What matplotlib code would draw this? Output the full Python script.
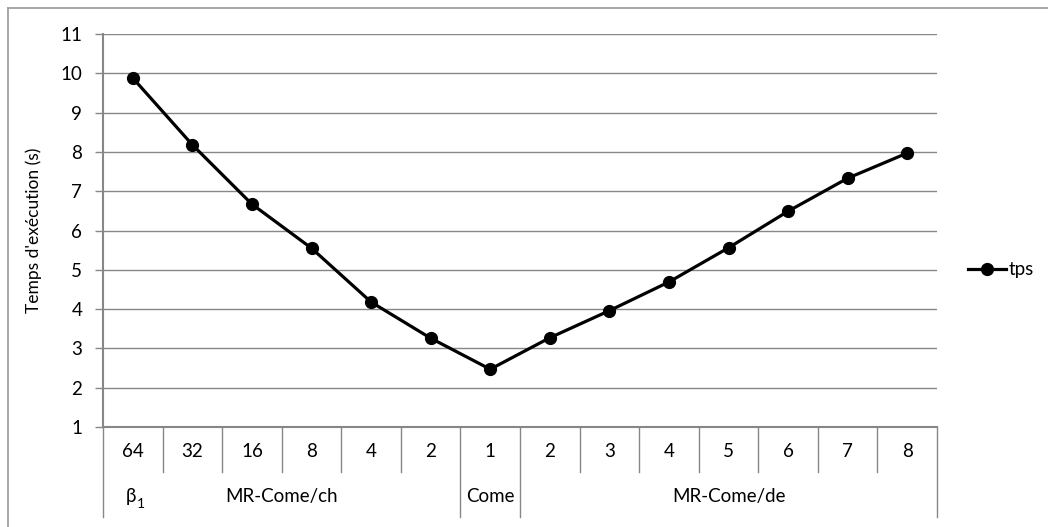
import matplotlib
matplotlib.use("Agg")
import matplotlib.pyplot as plt
from matplotlib.lines import Line2D
import matplotlib.transforms as mtransforms

plt.rcParams['font.family'] = ['Lato', 'DejaVu Sans']

tick_labels = ["64", "32", "16", "8", "4", "2", "1", "2", "3", "4", "5", "6", "7", "8"]
tps = [9.88, 8.18, 6.67, 5.55, 4.18, 3.26, 2.47, 3.27, 3.96, 4.69, 5.56, 6.49, 7.33, 7.97]
groups = [("MR-Come/ch", 0, 5), ("Come", 6, 6), ("MR-Come/de", 7, 13)]
extra_label = ("β", "1", 0)
y_ticks = list(range(1, 12))

W, H = 1048, 527
fig = plt.figure(figsize=(W / 100, H / 100), dpi=100)
ax = fig.add_axes([103 / W, 1 - 427 / H, (937 - 103) / W, (427 - 34) / H])

grey = "#878787"
fs = 13.5
x = list(range(len(tps)))
ax.plot(x, tps, color="black", lw=2.3, marker="o", markersize=8.5, label="tps", zorder=3)

ax.set_xlim(-0.5, len(tps) - 0.5)
ax.set_ylim(1, 11)
ax.set_yticks(y_ticks)
ax.yaxis.grid(True, color=grey, lw=1)
ax.set_axisbelow(True)
ax.set_xticks([])
for s in ["top", "right"]:
    ax.spines[s].set_visible(False)
for s in ["left", "bottom"]:
    ax.spines[s].set_color(grey)
    ax.spines[s].set_linewidth(1.5)
ax.tick_params(axis="y", length=6, width=1, color=grey, pad=9, labelsize=fs)

ax.set_ylabel("Temps d'exécution (s)", fontsize=12.5, labelpad=13)

trans = mtransforms.blended_transform_factory(ax.transData, ax.transAxes)
row1 = 45 / 393
row2 = 90 / 393
group_bounds = set()
for _, a, b in groups:
    group_bounds.add(a - 0.5)
    group_bounds.add(b + 0.5)
for i in range(len(tps) + 1):
    xb = i - 0.5
    depth = row2 if xb in group_bounds else row1
    ax.add_line(Line2D([xb, xb], [0, -depth], transform=trans, color=grey, lw=1, clip_on=False))

for i, lab in enumerate(tick_labels):
    ax.text(i, -row1 / 2 - 0.005, lab, transform=trans, ha="center", va="center", fontsize=fs)

ymid2 = -(row1 + row2) / 2 - 0.005
for name, a, b in groups:
    ax.text((a + b) / 2, ymid2, name, transform=trans, ha="center", va="center", fontsize=fs)
# beta with subscript 1
ax.text(extra_label[2] + 0.05, ymid2, extra_label[0], transform=trans, ha="right", va="center", fontsize=fs)
ax.text(extra_label[2] + 0.06, ymid2 - 0.02, extra_label[1], transform=trans, ha="left", va="center", fontsize=10)

fig.legend(handles=[Line2D([], [], color="black", lw=2.3, marker="o", markersize=8.5)],
           labels=["tps"], loc="center left", bbox_to_anchor=(968 / W, 1 - 270 / H),
           frameon=False, fontsize=fs, handlelength=2.0, handletextpad=0.15,
           borderpad=0, borderaxespad=0)

# figure border (top and left visible)
fig.add_artist(Line2D([8 / W, 1], [1 - 8 / H, 1 - 8 / H], transform=fig.transFigure, color="#9a9a9a", lw=1.2))
fig.add_artist(Line2D([8 / W, 8 / W], [0, 1 - 8 / H], transform=fig.transFigure, color="#9a9a9a", lw=1.2))

fig.savefig("out.png", dpi=100, facecolor="white")
